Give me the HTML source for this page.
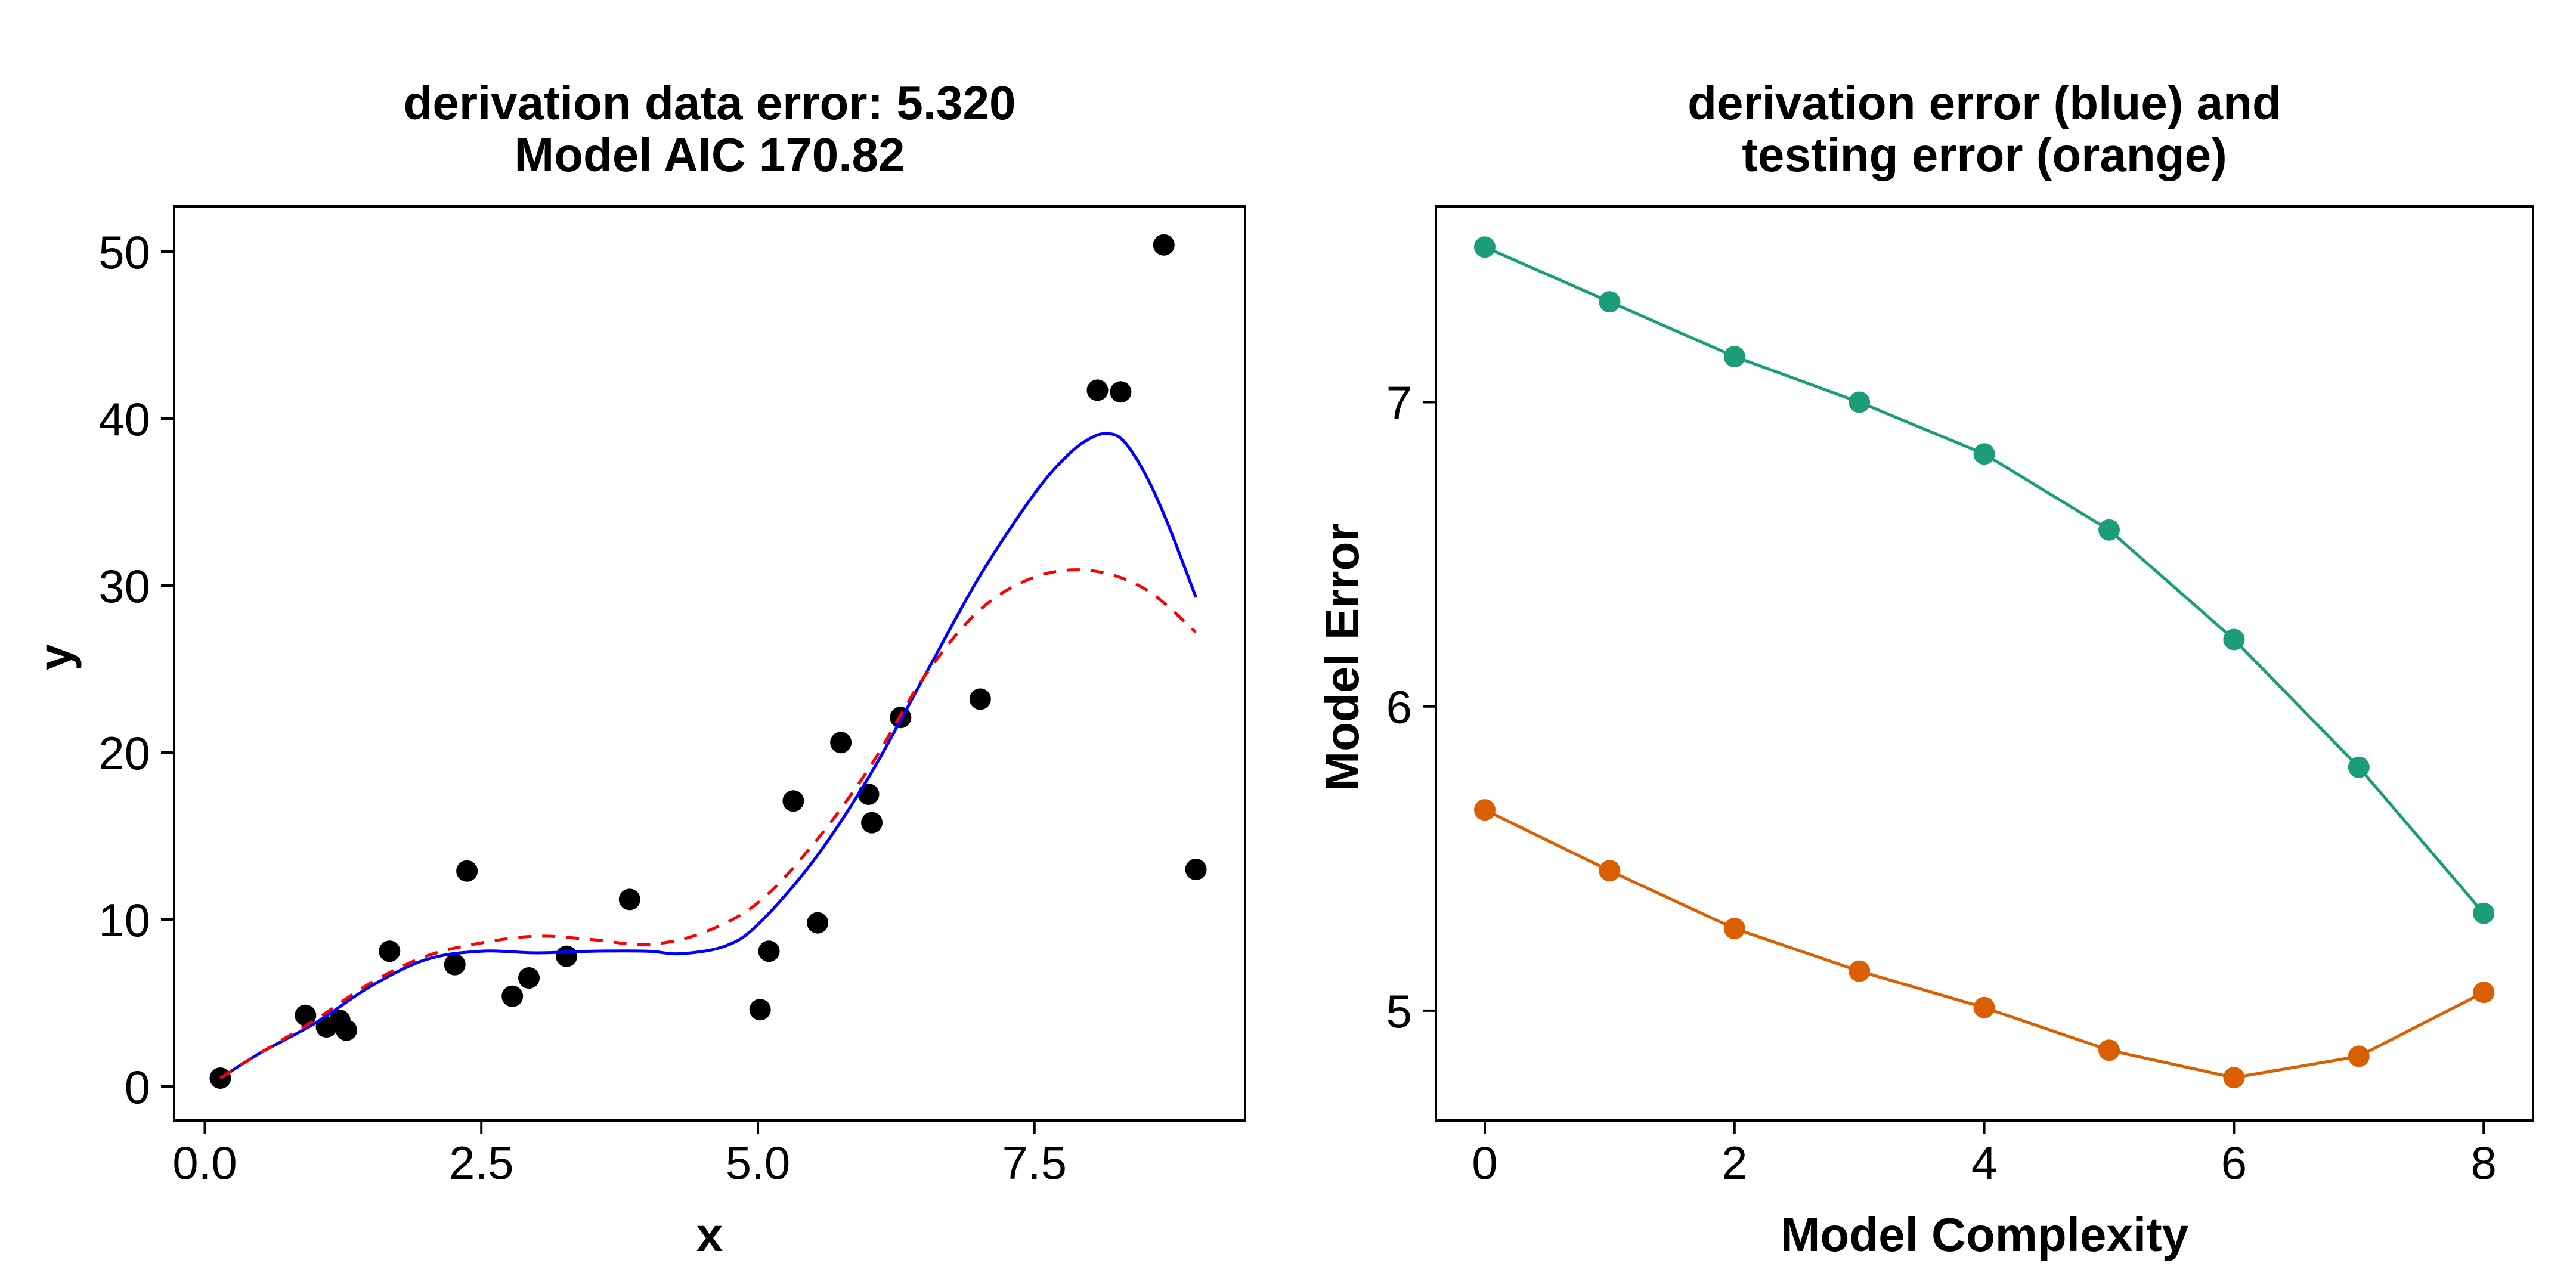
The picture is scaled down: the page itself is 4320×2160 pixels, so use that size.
<!DOCTYPE html>
<html><head><meta charset="utf-8"><style>
html,body{margin:0;padding:0;background:#fff;}
svg{display:block;font-family:"Liberation Sans",Arial,sans-serif;}
</style></head><body>
<svg id="chart" width="4320" height="2160" viewBox="0 0 4320 2160" xmlns="http://www.w3.org/2000/svg">
<rect width="4320" height="2160" fill="#fff"/>
<g id="left"></g>
<g id="right"></g>
</svg>
<script>
// Left panel data
const ptsX = [0.14,0.91,1.10,1.22,1.28,1.67,2.26,2.37,2.78,2.93,3.27,3.84,5.02,5.10,5.32,5.54,5.75,6.00,6.03,6.29,7.01,8.07,8.28,8.67,8.96];
const ptsY = [0.5,4.26,3.57,3.96,3.37,8.1,7.3,12.9,5.4,6.5,7.8,11.2,4.6,8.1,17.1,9.8,20.6,17.5,15.8,22.1,23.2,41.7,41.6,50.4,13.0];
const fitX = [0.14,0.5,1,1.5,2,2.5,3,3.5,4,4.3,4.7,5,5.5,6,6.5,7,7.5,7.8,8,8.15,8.3,8.5,8.7,8.96];
const blueY = [0.5,2,3.8,6,7.6,8.1,8.0,8.1,8.1,7.95,8.4,9.7,13.5,18.5,24.5,30.5,35.5,37.8,38.8,39.1,38.7,36.7,33.8,29.3];
const redX = [0.14,0.5,1,1.5,2,2.5,3,3.5,4,4.5,5,5.5,6,6.5,7,7.5,8,8.5,8.96];
const redY = [0.5,2,4,6.2,7.8,8.6,9.0,8.8,8.5,9.2,11,14.5,19,24.5,28.5,30.5,30.9,29.8,27.2];
const leftXTicks = [0,2.5,5,7.5];
const leftXTickLabels = ["0.0","2.5","5.0","7.5"];
const leftYTicks = [0,10,20,30,40,50];
// Right panel data
const complexity = [0,1,2,3,4,5,6,7,8];
const derivErr = [7.51,7.33,7.15,7.00,6.83,6.58,6.22,5.80,5.32];
const testErr = [5.66,5.46,5.27,5.13,5.01,4.87,4.78,4.85,5.06];
const rightXTicks = [0,2,4,6,8];
const rightYTicks = [5,6,7];

const NS="http://www.w3.org/2000/svg";
function mk(parent,tag,attrs,text){const e=document.createElementNS(NS,tag);for(const k in attrs)e.setAttribute(k,attrs[k]);if(text!==undefined)e.textContent=text;parent.appendChild(e);return e;}

const LX=v=>343.5+185.5*v, LY=v=>1822-28.0*v;
const RX=v=>2490+209.4*v, RY=v=>674.5-510.2*(v-7);

function smooth(xs,ys){
  const p=xs.map((x,i)=>[x,ys[i]]);
  let d=`M${p[0][0]},${p[0][1]}`;
  for(let i=0;i<p.length-1;i++){
    const p0=p[Math.max(0,i-1)],p1=p[i],p2=p[i+1],p3=p[Math.min(p.length-1,i+2)];
    const c1=[p1[0]+(p2[0]-p0[0])/6,p1[1]+(p2[1]-p0[1])/6];
    const c2=[p2[0]-(p3[0]-p1[0])/6,p2[1]-(p3[1]-p1[1])/6];
    d+=` C${c1[0]},${c1[1]} ${c2[0]},${c2[1]} ${p2[0]},${p2[1]}`;
  }
  return d;
}

// ---------- Left panel ----------
const L=document.getElementById('left');
let t;
t=mk(L,'text',{x:1190,y:200,'font-size':80,'font-weight':'bold','text-anchor':'middle'},'derivation data error: 5.320');


t=mk(L,'text',{x:1190,y:287,'font-size':80,'font-weight':'bold','text-anchor':'middle'},'Model AIC 170.82');


leftYTicks.forEach(v=>{
  const tk=mk(L,'line',{x1:270,x2:292,y1:LY(v),y2:LY(v),stroke:'#000','stroke-width':4});
  
  
  const lb=mk(L,'text',{x:252,y:LY(v)+28,'font-size':78,'text-anchor':'end'},String(v));
  
  
});
leftXTicks.forEach((v,i)=>{
  const tk=mk(L,'line',{x1:LX(v),x2:LX(v),y1:1879,y2:1901,stroke:'#000','stroke-width':4});
  
  
  const lb=mk(L,'text',{x:LX(v),y:1977,'font-size':78,'text-anchor':'middle'},leftXTickLabels[i]);
  
  
});
t=mk(L,'text',{x:1190,y:2098,'font-size':80,'font-weight':'bold','text-anchor':'middle'},'x');


t=mk(L,'text',{x:120,y:1102,'font-size':80,'font-weight':'bold','text-anchor':'middle',transform:'rotate(-90 120 1102)'},'y');


ptsX.forEach((x,i)=>{
  const c=mk(L,'circle',{cx:LX(x),cy:LY(ptsY[i]),r:18,fill:'#000'});
  
  
});
const bl=mk(L,'path',{d:smooth(fitX.map(LX),blueY.map(LY)),fill:'none',stroke:'#0000ff','stroke-width':5});


const rd=mk(L,'path',{d:smooth(redX.map(LX),redY.map(LY)),fill:'none',stroke:'#ff0000','stroke-width':5,'stroke-dasharray':'22 18'});


const lbox=mk(L,'rect',{x:292,y:346,width:1796,height:1533,fill:'none',stroke:'#000','stroke-width':4});



// ---------- Right panel ----------
const R=document.getElementById('right');
t=mk(R,'text',{x:3328,y:200,'font-size':80,'font-weight':'bold','text-anchor':'middle'},'derivation error (blue) and');


t=mk(R,'text',{x:3328,y:287,'font-size':80,'font-weight':'bold','text-anchor':'middle'},'testing error (orange)');


rightYTicks.forEach(v=>{
  const tk=mk(R,'line',{x1:2386,x2:2408,y1:RY(v),y2:RY(v),stroke:'#000','stroke-width':4});
  
  
  const lb=mk(R,'text',{x:2368,y:RY(v)+28,'font-size':78,'text-anchor':'end'},String(v));
  
  
});
rightXTicks.forEach(v=>{
  const tk=mk(R,'line',{x1:RX(v),x2:RX(v),y1:1879,y2:1901,stroke:'#000','stroke-width':4});
  
  
  const lb=mk(R,'text',{x:RX(v),y:1977,'font-size':78,'text-anchor':'middle'},String(v));
  
  
});
t=mk(R,'text',{x:3328,y:2098,'font-size':80,'font-weight':'bold','text-anchor':'middle'},'Model Complexity');


t=mk(R,'text',{x:2278,y:1102,'font-size':80,'font-weight':'bold','text-anchor':'middle',transform:'rotate(-90 2278 1102)'},'Model Error');


function series(vals,color,name){
  const ln=mk(R,'polyline',{points:complexity.map((c,i)=>RX(c)+','+RY(vals[i])).join(' '),fill:'none',stroke:color,'stroke-width':5});
  
  
  complexity.forEach((c,i)=>{
    const p=mk(R,'circle',{cx:RX(c),cy:RY(vals[i]),r:18,fill:color});
    
    
  });
}
series(derivErr,'#1b9e77','derivation-error');
series(testErr,'#d95f02','testing-error');
const rbox=mk(R,'rect',{x:2408,y:346,width:1840,height:1533,fill:'none',stroke:'#000','stroke-width':4});


</script>
</body></html>
